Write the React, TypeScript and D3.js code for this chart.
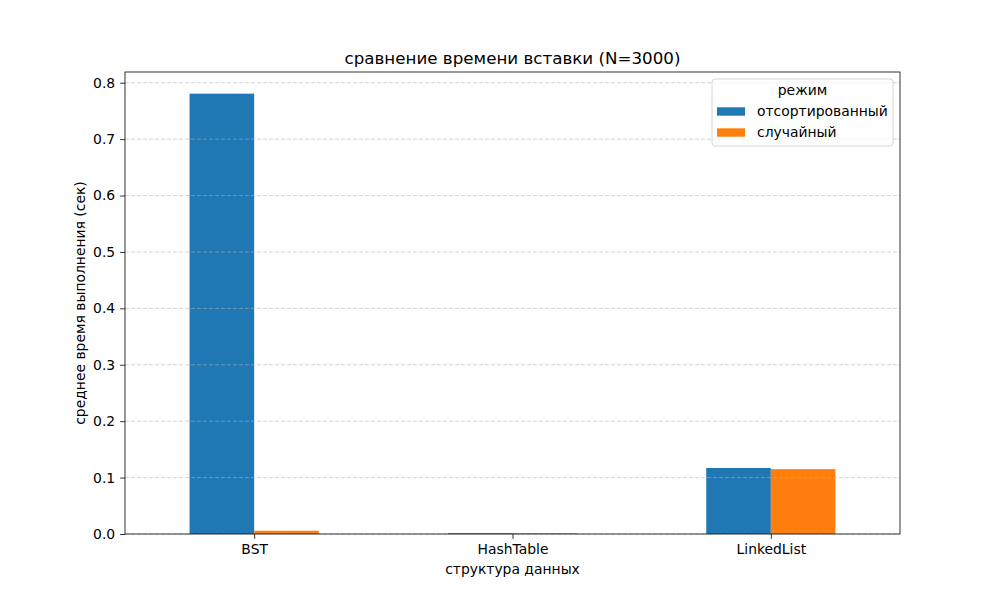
import React, { useEffect, useRef } from 'react';
import * as d3 from 'd3';

const categories = ['BST', 'HashTable', 'LinkedList'];
const modes = ['отсортированный', 'случайный'];
const sortedValues = [0.7806, 0.0015, 0.117];
const randomValues = [0.0058, 0.0012, 0.115];
const yTicks = [0, 0.1, 0.2, 0.3, 0.4, 0.5, 0.6, 0.7, 0.8];
const colors = ['#1f77b4', '#ff7f0e'];

const App = () => {
  const ref = useRef<SVGSVGElement>(null);

  useEffect(() => {
    const svg = d3.select(ref.current);
    svg.selectAll('*').remove();

    const margin = { top: 72, right: 100, bottom: 66, left: 125 };
    const width = 1000 - margin.left - margin.right;
    const height = 600 - margin.top - margin.bottom;
    const font = 'DejaVu Sans, sans-serif';

    const g = svg.append('g').attr('transform', `translate(${margin.left},${margin.top})`);

    // x in category units, like matplotlib (-0.5 .. n-0.5)
    const x = d3.scaleLinear().domain([-0.5, categories.length - 0.5]).range([0, width]);
    const y = d3.scaleLinear().domain([0, 0.819]).range([height, 0]);
    const barW = 0.25;

    const series = [sortedValues, randomValues];
    series.forEach((vals, si) => {
      g.selectAll(`.bar${si}`)
        .data(vals)
        .enter()
        .append('rect')
        .attr('x', (_, i) => x(i - barW + si * barW))
        .attr('width', x(barW) - x(0))
        .attr('y', (d) => y(d))
        .attr('height', (d) => height - y(d))
        .attr('fill', colors[si]);
    });

    // grid
    g.selectAll('.grid')
      .data(yTicks)
      .enter()
      .append('line')
      .attr('x1', 0)
      .attr('x2', width)
      .attr('y1', (d) => y(d))
      .attr('y2', (d) => y(d))
      .attr('stroke', '#b0b0b0')
      .attr('stroke-opacity', 0.7)
      .attr('stroke-dasharray', '4,2')
      .attr('stroke-width', 0.8);

    // axes
    const yAxis = g
      .append('g')
      .call(d3.axisLeft(y).tickValues(yTicks).tickFormat(d3.format('.1f')).tickSize(4.9).tickPadding(4.9));
    const xAxis = g
      .append('g')
      .attr('transform', `translate(0,${height})`)
      .call(
        d3
          .axisBottom(x)
          .tickValues(categories.map((_, i) => i))
          .tickFormat((d) => categories[d as number])
          .tickSize(4.9)
          .tickPadding(4.9)
      );
    [xAxis, yAxis].forEach((a) => {
      a.select('.domain').remove();
      a.selectAll('text').attr('font-family', font).attr('font-size', 13.9).attr('fill', '#000');
      a.selectAll('line').attr('stroke', '#000').attr('stroke-width', 0.8);
    });

    // frame
    g.append('rect')
      .attr('width', width)
      .attr('height', height)
      .attr('fill', 'none')
      .attr('stroke', '#000')
      .attr('stroke-width', 0.8);

    // titles
    svg.append('text')
      .attr('x', margin.left + width / 2)
      .attr('y', 64)
      .attr('text-anchor', 'middle')
      .attr('font-family', font)
      .attr('font-size', 16.7)
      .text('сравнение времени вставки (N=3000)');

    svg.append('text')
      .attr('x', margin.left + width / 2)
      .attr('y', 574)
      .attr('text-anchor', 'middle')
      .attr('font-family', font)
      .attr('font-size', 13.9)
      .text('структура данных');

    svg.append('text')
      .attr('transform', `translate(85,${margin.top + height / 2}) rotate(-90)`)
      .attr('text-anchor', 'middle')
      .attr('font-family', font)
      .attr('font-size', 13.9)
      .text('среднее время выполнения (сек)');

    // legend
    const lg = svg.append('g').attr('transform', 'translate(712,79)');
    lg.append('rect')
      .attr('width', 181)
      .attr('height', 67)
      .attr('rx', 3)
      .attr('fill', '#fff')
      .attr('fill-opacity', 0.8)
      .attr('stroke', '#ccc')
      .attr('stroke-width', 0.8);
    lg.append('text')
      .attr('x', 90.5)
      .attr('y', 16)
      .attr('text-anchor', 'middle')
      .attr('font-family', font)
      .attr('font-size', 13.9)
      .text('режим');
    modes.forEach((m, i) => {
      lg.append('rect')
        .attr('x', 5)
        .attr('y', 28.3 + i * 21)
        .attr('width', 28)
        .attr('height', 8.4)
        .attr('fill', colors[i]);
      lg.append('text')
        .attr('x', 45)
        .attr('y', 37 + i * 21)
        .attr('font-family', font)
        .attr('font-size', 13.9)
        .text(m);
    });
  }, []);

  return (
    <svg
      ref={ref}
      width={1000}
      height={600}
      style={{ position: 'absolute', left: 0, top: 0, background: '#fff' }}
    />
  );
};

export default App;
